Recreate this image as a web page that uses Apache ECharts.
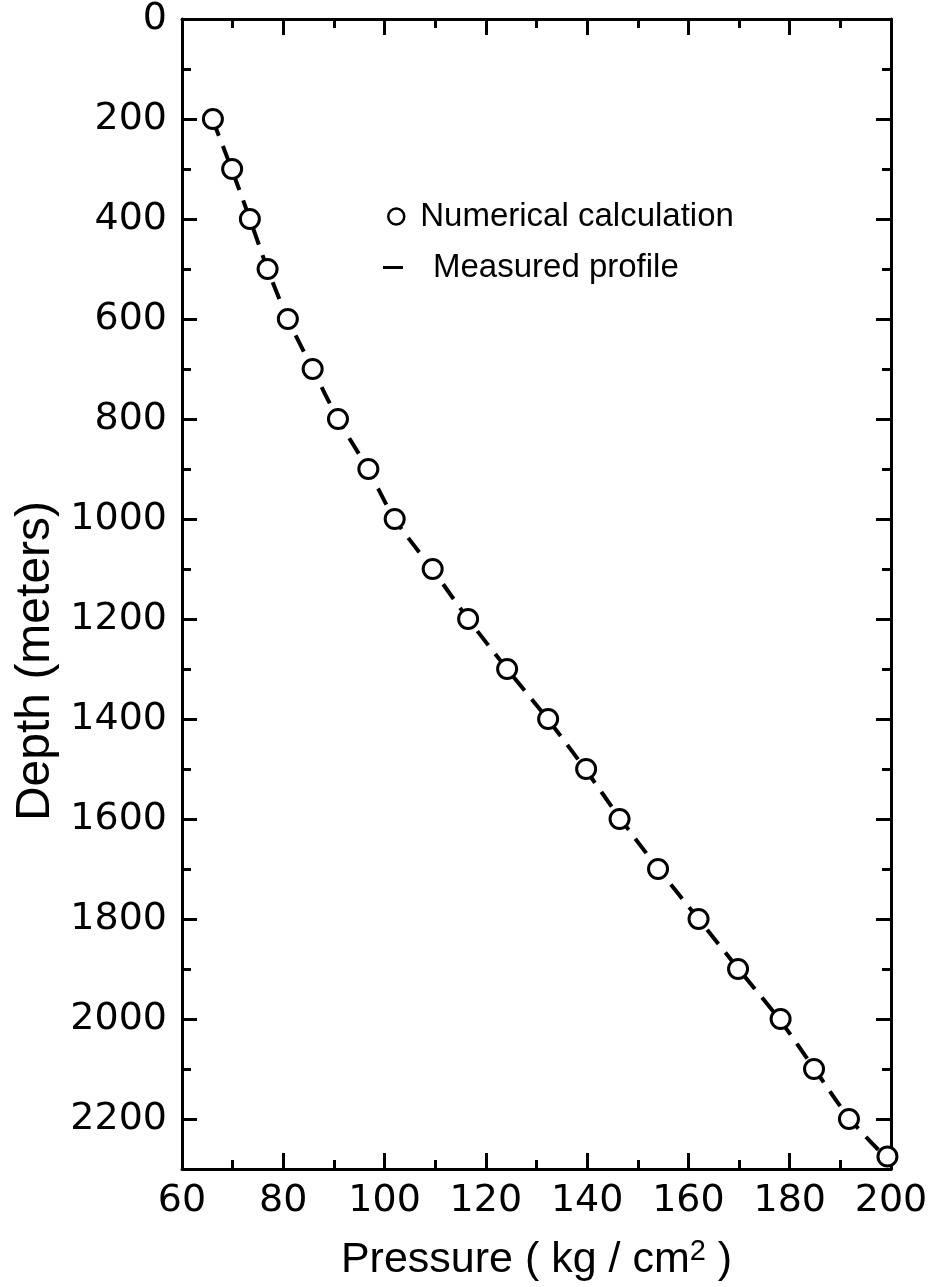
<!DOCTYPE html>
<html>
<head>
<meta charset="utf-8">
<script src="https://cdn.jsdelivr.net/npm/echarts@6/dist/echarts.min.js"></script>
<style>
html,body{margin:0;padding:0;background:#fff;}
#chart{width:944px;height:1287px;}
</style>
</head>
<body>
<div id="chart"></div>
<script>
// Depths (m) of the numerical-calculation points
const calcDepth = [200,300,400,500,600,700,800,900,1000,1100,1200,1300,1400,1500,1600,1700,1800,1900,2000,2100,2200,2275];
// Pressure (kg/cm2) of the numerical-calculation points
const calcPressure = [66.1,69.9,73.4,76.9,80.9,85.8,90.8,96.8,102.0,109.5,116.5,124.2,132.3,139.8,146.4,154.0,162.0,169.8,178.2,184.8,191.7,199.3];
// Measured profile (dashed curve)
const measDepth = [200,300,400,500,600,700,800,900,1000,1100,1200,1300,1400,1500,1600,1700,1800,1900,2000,2100,2200,2280];
const measPressure = [66.0,69.8,73.4,76.9,80.9,85.8,90.8,96.7,102.0,109.4,116.5,124.2,132.2,139.6,146.6,154.1,162.0,169.9,177.9,184.9,191.9,199.3];

const xMin = 60, xMax = 200, xStep = 20;
const yMin = 0, yMax = 2300, yStep = 200, yMinorStep = 100;

const FONT = 'DejaVu Sans';
const black = '#000';

function yAx(pos, interval, tickLen, labels, line) {
  return {
    type: 'value', position: pos, inverse: true,
    min: yMin, max: yMax, interval: interval,
    axisLine: {show: line, lineStyle: {color: black, width: 3}},
    axisTick: {show: true, inside: true, length: tickLen, lineStyle: {color: black, width: 3}},
    axisLabel: {show: labels, margin: 15, color: black, fontFamily: FONT, fontSize: 38,
      showMaxLabel: false, formatter: v => String(v)},
    splitLine: {show: false}
  };
}
function xAx(pos, labels) {
  return {
    type: 'value', position: pos,
    min: xMin, max: xMax, interval: xStep,
    axisLine: {show: true, onZero: false, lineStyle: {color: black, width: 3}},
    axisTick: {show: true, inside: true, length: 16, lineStyle: {color: black, width: 3}},
    minorTick: {show: true, splitNumber: 2, length: 9, lineStyle: {color: black, width: 3}},
    axisLabel: {show: labels, margin: 13, color: black, fontFamily: FONT, fontSize: 38,
      formatter: v => String(v)},
    splitLine: {show: false}
  };
}

const xBottom = xAx('bottom', true);
xBottom.name = 'Pressure ( kg / cm{s|2} )';
xBottom.nameLocation = 'middle';
xBottom.nameGap = 68;
xBottom.nameTextStyle = {color: black, fontFamily: 'Liberation Sans', fontSize: 43,
  rich: {s: {fontFamily: 'Liberation Sans', fontSize: 29, color: black, verticalAlign: 'top', padding: [0,0,18,0]}}};

const yLeft = yAx('left', yStep, 15, true, true);
yLeft.name = 'Depth (meters)';
yLeft.nameLocation = 'middle';
yLeft.nameGap = 120;
yLeft.nameTextStyle = {color: black, fontFamily: 'Liberation Sans', fontSize: 48, padding: [0, 134, 0, 0]};

const chart = echarts.init(document.getElementById('chart'), null, {renderer: 'canvas'});
chart.setOption({
  backgroundColor: '#fff',
  animation: false,
  grid: {left: 182, right: 53, top: 16, bottom: 115, containLabel: false},
  xAxis: [xBottom, xAx('top', false)],
  yAxis: [
    yLeft,
    yAx('left', yMinorStep, 9, false, false),
    yAx('right', yStep, 15, false, true),
    yAx('right', yMinorStep, 9, false, false)
  ],
  legend: [
    {
      data: [{name: 'Numerical calculation', icon: 'circle',
        itemStyle: {color: '#fff', borderColor: black, borderWidth: 2.5}}],
      left: 382, top: 195, itemWidth: 16, itemHeight: 16,
      textStyle: {color: black, fontFamily: 'Liberation Sans', fontSize: 33, padding: [0,0,0,11]},
      selectedMode: false
    },
    {
      data: [{name: 'Measured profile', icon: 'rect', itemStyle: {color: black, borderWidth: 0}}],
      left: 378, top: 246, itemWidth: 20, itemHeight: 3,
      textStyle: {color: black, fontFamily: 'Liberation Sans', fontSize: 33, padding: [0,0,0,25]},
      selectedMode: false
    }
  ],
  series: [
    {
      name: 'Measured profile', type: 'line', xAxisIndex: 0, yAxisIndex: 0,
      data: measPressure.map((p, i) => [p, measDepth[i]]),
      smooth: 0.3, showSymbol: false, symbol: 'none',
      lineStyle: {color: black, width: 4, type: [18, 11]},
      z: 2
    },
    {
      name: 'Numerical calculation', type: 'scatter', xAxisIndex: 0, yAxisIndex: 0,
      data: calcPressure.map((p, i) => [p, calcDepth[i]]),
      symbol: 'circle', symbolSize: 19,
      itemStyle: {color: '#fff', borderColor: black, borderWidth: 3, opacity: 1},
      z: 3
    }
  ]
});
</script>
</body>
</html>
